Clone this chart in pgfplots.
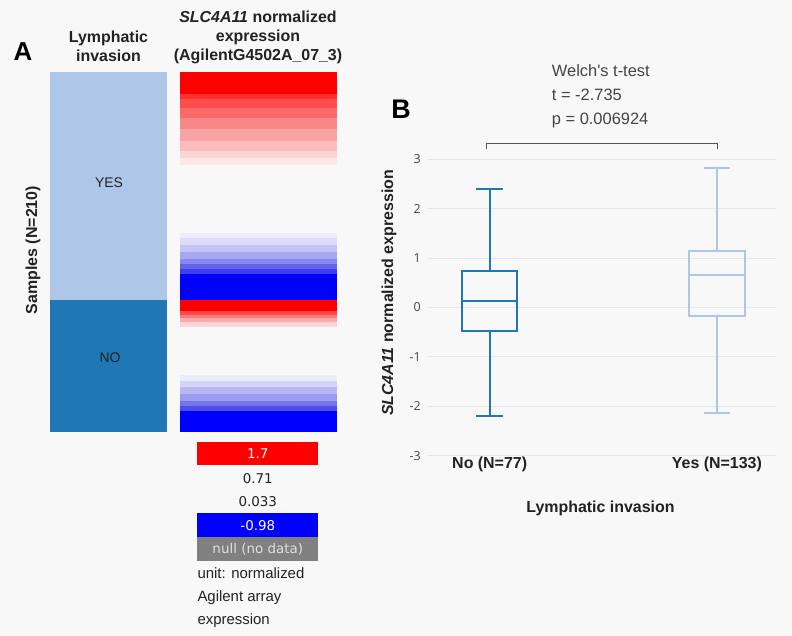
\documentclass[border=0pt]{standalone}
\usepackage{fontspec}
\setmainfont{Liberation Sans}
\newfontfamily\welch{Liberation Sans}[Ligatures=TeXOff]
\newfontfamily\dejavu{DejaVu Sans}
\newfontfamily\opensans{Open Sans}
\usepackage{pgfplots}
\pgfplotsset{compat=1.18}
\usepgfplotslibrary{statistics}
\definecolor{bg}{HTML}{F8F8F8}
\definecolor{txt}{HTML}{222222}
\definecolor{tickc}{HTML}{444444}
\definecolor{gridc}{HTML}{E6E6E6}
\definecolor{noc}{HTML}{1F77B4}
\definecolor{yesc}{HTML}{AEC7E8}
\definecolor{brk}{HTML}{555555}
\definecolor{nullg}{HTML}{808080}
\definecolor{nullt}{HTML}{E0E0E0}
\definecolor{r1}{HTML}{FF0000}
\definecolor{b1}{HTML}{0000FF}
% band: samples #1..#2 of the heatmap column in colour #3 (later bands are drawn over earlier ones)
\newcommand{\band}[3]{\addplot[fill={rgb,255:#3}, draw=none] coordinates {(180,#1) (337,#1) (337,#2) (180,#2)} -- cycle;}
\begin{document}
\begin{tikzpicture}
\begin{scope}[x=1bp,y=-1bp]
\fill[bg] (0,0) rectangle (792,636);
\end{scope}

% ---------- Panel A: annotation bar + heatmap (sample index 0..210, top to bottom)
\begin{axis}[at={(50bp,-432bp)}, anchor=south west, scale only axis,
  width=287bp, height=360bp, xmin=50, xmax=337, ymin=0, ymax=210,
  y dir=reverse, axis lines=none, clip=false]
% lymphatic invasion bar
\addplot[fill=yesc, draw=none] coordinates {(50,0) (167,0) (167,133) (50,133)} -- cycle;
\addplot[fill=noc, draw=none] coordinates {(50,133) (167,133) (167,210) (50,210)} -- cycle;
% YES group (samples 0-133): red part, lightest first, each band from sample 0
\band{0}{54}{red,253;green,232;blue,232}
\band{0}{50}{red,252;green,212;blue,212}
\band{0}{46}{red,250;green,188;blue,188}
\band{0}{40}{red,248;green,164;blue,164}
\band{0}{33}{red,248;green,136;blue,136}
\band{0}{27}{red,250;green,106;blue,106}
\band{0}{21}{red,255;green,76;blue,76}
\band{0}{16}{red,255;green,48;blue,48}
\band{0}{13}{red,255;green,0;blue,0}
% YES group: blue part, each band to sample 133
\band{94}{133}{red,236;green,236;blue,252}
\band{97}{133}{red,220;green,220;blue,250}
\band{101}{133}{red,196;green,196;blue,246}
\band{105}{133}{red,168;green,168;blue,242}
\band{109}{133}{red,136;green,136;blue,238}
\band{112}{133}{red,100;green,100;blue,234}
\band{115}{133}{red,60;green,60;blue,240}
\band{118}{133}{red,0;green,0;blue,255}
% NO group (samples 133-210): red part
\band{133}{149}{red,252;green,214;blue,214}
\band{133}{146}{red,248;green,170;blue,170}
\band{133}{143.5}{red,248;green,124;blue,124}
\band{133}{141.5}{red,255;green,72;blue,72}
\band{133}{139.5}{red,255;green,0;blue,0}
% NO group: blue part
\band{177}{210}{red,236;green,236;blue,252}
\band{180}{210}{red,212;green,212;blue,248}
\band{184}{210}{red,184;green,184;blue,244}
\band{188}{210}{red,156;green,156;blue,240}
\band{192}{210}{red,116;green,116;blue,236}
\band{195}{210}{red,76;green,76;blue,234}
\band{198}{210}{red,0;green,0;blue,255}
\end{axis}

% ---------- Panel B: box plot
\begin{axis}[at={(428.3bp,-455.7bp)}, anchor=south west, scale only axis,
  width=347.7bp, height=296.4bp, xmin=-0.27, xmax=1.26, ymin=-3, ymax=3,
  axis line style={draw=none}, tick style={draw=none},
  ytick={-3,-2,-1,0,1,2,3}, xtick={0,1},
  xticklabels={No (N=77), Yes (N=133)},
  xticklabel style={font=\bfseries\fontsize{16}{16}\selectfont, text=txt, anchor=base, yshift=-13bp},
  yticklabel style={font=\opensans\fontsize{12.5}{12.5}\selectfont, text=tickc, anchor=east, xshift=-4bp},
  /pgf/number format/assume math mode=true,
  boxplot/draw direction=y,
  ymajorgrids, grid style={color=gridc, line width=1bp}, clip=false]
\addplot[noc, line width=1.9bp, solid, mark=none, boxplot prepared={draw position=0,
  lower whisker=-2.20, lower quartile=-0.48, median=0.14,
  upper quartile=0.73, upper whisker=2.39, box extend=0.244, whisker extend=0.118}]
  coordinates {};
\addplot[yesc, line width=1.9bp, solid, mark=none, boxplot prepared={draw position=1,
  lower whisker=-2.14, lower quartile=-0.18, median=0.66,
  upper quartile=1.14, upper whisker=2.82, box extend=0.244, whisker extend=0.118}]
  coordinates {};
\end{axis}

\begin{scope}[x=1bp,y=-1bp]
% panel letters
\node[font=\bfseries\fontsize{26}{26}\selectfont, text=black] at (23,51.5) {A};
\node[font=\bfseries\fontsize{27}{27}\selectfont, text=black] at (401,109) {B};
% panel A headers
\node[align=center, font=\bfseries\fontsize{16}{19}\selectfont, text=txt] at (108.5,46) {Lymphatic\\invasion};
\node[align=center, font=\bfseries\fontsize{16}{19}\selectfont, text=txt] at (258,37.3) {\textit{SLC4A11} normalized\\expression\\(AgilentG4502A\_07\_3)};
\node[rotate=90, font=\bfseries\fontsize{16}{16}\selectfont, text=txt] at (33,250) {Samples (N=210)};
\node[font=\fontsize{14}{14}\selectfont, text=txt] at (109,183) {YES};
\node[font=\fontsize{14}{14}\selectfont, text=txt] at (110,358) {NO};
% panel A colour legend
\fill[r1] (197.3,441.7) rectangle (318.3,465);
\node[font=\dejavu\fontsize{13.5}{16}\selectfont, text=white] at (257.8,453.4) {1.7};
\node[font=\dejavu\fontsize{13.5}{16}\selectfont, text=txt] at (257.8,478.3) {0.71};
\node[font=\dejavu\fontsize{13.5}{16}\selectfont, text=txt] at (257.8,501.7) {0.033};
\fill[b1] (197.3,513.3) rectangle (318.3,537.3);
\node[font=\dejavu\fontsize{13.5}{16}\selectfont, text=white] at (257.8,525.3) {-0.98};
\fill[nullg] (197.3,537.3) rectangle (318.3,561);
\node[font=\dejavu\fontsize{13.5}{16}\selectfont, text=nullt] at (257.8,549.2) {null (no data)};
\node[anchor=base west, inner sep=0pt, font=\fontsize{15}{15}\selectfont, text=txt] at (197.3,578.5) {unit: normalized};
\node[anchor=base west, inner sep=0pt, font=\fontsize{15}{15}\selectfont, text=txt] at (197.3,601) {Agilent array};
\node[anchor=base west, inner sep=0pt, font=\fontsize{15}{15}\selectfont, text=txt] at (197.3,624.5) {expression};
% panel B annotations
\node[anchor=base west, inner sep=0pt, font=\welch\fontsize{16.5}{16.5}\selectfont, text=tickc] at (551.7,77) {Welch's t-test};
\node[anchor=base west, inner sep=0pt, font=\welch\fontsize{16.5}{16.5}\selectfont, text=tickc] at (551.7,100.8) {t = -2.735};
\node[anchor=base west, inner sep=0pt, font=\welch\fontsize{16.5}{16.5}\selectfont, text=tickc] at (551.7,124.5) {p = 0.006924};
\draw[brk, line width=1bp] (486.7,149.3) -- (486.7,143.3) -- (717.3,143.3) -- (717.3,149.3);
\node[rotate=90, font=\bfseries\fontsize{16}{16}\selectfont, text=txt] at (389,293) {\textit{SLC4A11} normalized expression};
\node[font=\bfseries\fontsize{16}{16}\selectfont, text=txt] at (600.5,508.3) {Lymphatic invasion};
\end{scope}
\end{tikzpicture}
\end{document}
